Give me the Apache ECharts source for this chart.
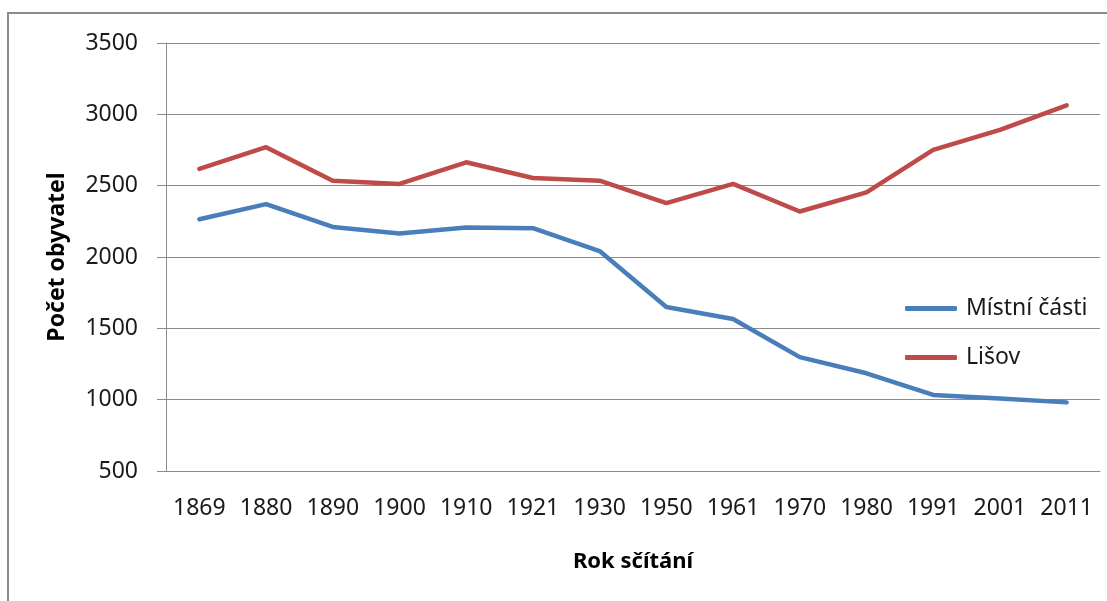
<!DOCTYPE html>
<html>
<head>
<meta charset="utf-8">
<script src="https://cdn.jsdelivr.net/npm/echarts@6/dist/echarts.min.js"></script>
<style>
html, body { margin: 0; padding: 0; background: #fff; overflow: hidden; }
#chart { width: 1107px; height: 601px; }
</style>
</head>
<body>
<div id="chart"></div>
<script>
// data
var roky = ['1869', '1880', '1890', '1900', '1910', '1921', '1930', '1950', '1961', '1970', '1980', '1991', '2001', '2011'];
var mistniCasti = [2265, 2371, 2211, 2164, 2206, 2202, 2042, 1650, 1565, 1298, 1185, 1033, 1009, 981];
var lisov = [2618, 2770, 2535, 2512, 2664, 2554, 2535, 2378, 2512, 2319, 2453, 2751, 2891, 3063];

var font = '"Noto Sans", "DejaVu Sans", sans-serif';
var gridColor = '#8c8c8c';

var chart = echarts.init(document.getElementById('chart'));
var option = {
    animation: false,
    backgroundColor: '#fff',
    graphic: [{
        type: 'rect',
        shape: { x: 8, y: 13, width: 1130, height: 620 },
        style: { fill: 'none', stroke: '#8c8c8c', lineWidth: 2 },
        silent: true
    }],
    grid: {
        left: 166,
        right: 7,
        top: 43,
        bottom: 130
    },
    legend: {
        orient: 'vertical',
        left: 900,
        top: 292,
        itemWidth: 52,
        itemHeight: 5,
        itemGap: 26,
        icon: 'roundRect',
        textStyle: {
            fontFamily: font,
            fontSize: 23,
            color: '#1a1a1a',
            padding: [0, 0, 0, 4]
        },
        data: ['Místní části', 'Lišov']
    },
    xAxis: {
        type: 'category',
        data: roky,
        boundaryGap: true,
        name: 'Rok sčítání',
        nameLocation: 'middle',
        nameGap: 80,
        nameTextStyle: {
            fontFamily: font,
            fontSize: 22,
            fontWeight: 'bold',
            color: '#000'
        },
        axisLine: { lineStyle: { color: gridColor, width: 1 } },
        axisTick: { show: false },
        axisLabel: {
            interval: 0,
            hideOverlap: false,
            fontFamily: font,
            fontSize: 23,
            color: '#1a1a1a',
            margin: 26
        }
    },
    yAxis: {
        type: 'value',
        min: 500,
        max: 3500,
        interval: 500,
        name: 'Počet obyvatel',
        nameLocation: 'middle',
        nameGap: 97,
        nameTextStyle: {
            fontFamily: font,
            fontSize: 23,
            fontWeight: 'bold',
            color: '#000'
        },
        axisLine: { show: true, lineStyle: { color: gridColor, width: 1 } },
        axisTick: { show: true, length: 9, inside: false, lineStyle: { color: gridColor } },
        axisLabel: {
            fontFamily: font,
            fontSize: 23,
            color: '#1a1a1a',
            margin: 28,
            formatter: function (v) { return String(v); }
        },
        splitLine: { lineStyle: { color: gridColor, width: 1 } }
    },
    series: [
        {
            name: 'Místní části',
            type: 'line',
            data: mistniCasti,
            showSymbol: false,
            symbol: 'none',
            lineStyle: { width: 4.5, color: '#4a7ebb', cap: 'round', join: 'round' },
            itemStyle: { color: '#4a7ebb' }
        },
        {
            name: 'Lišov',
            type: 'line',
            data: lisov,
            showSymbol: false,
            symbol: 'none',
            lineStyle: { width: 4.5, color: '#be4b48', cap: 'round', join: 'round' },
            itemStyle: { color: '#be4b48' }
        }
    ]
};
chart.setOption(option);
</script>
</body>
</html>
